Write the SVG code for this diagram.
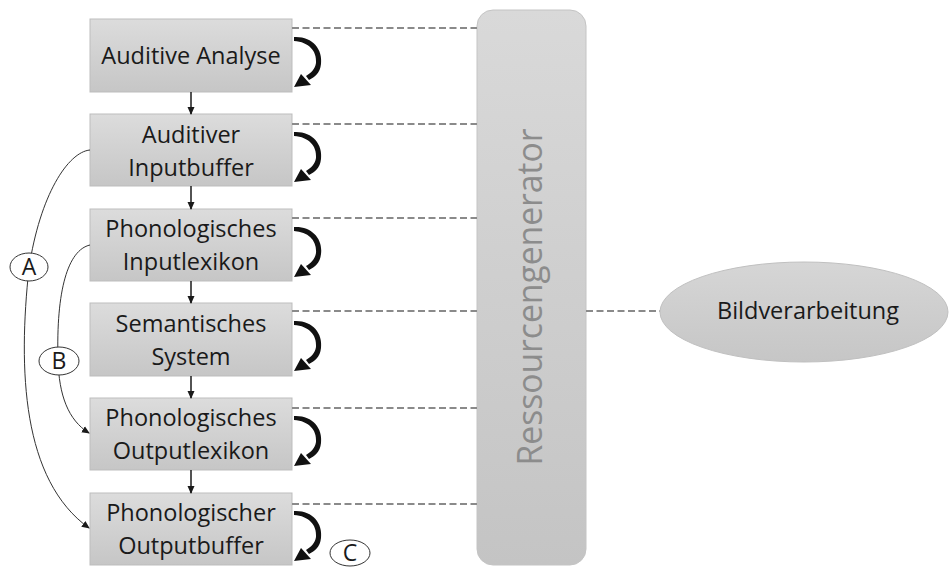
<svg xmlns="http://www.w3.org/2000/svg" width="950" height="569" viewBox="0 0 950 569">
  <style>
    .box { fill: url(#boxFill); stroke: #bdbdbd; stroke-width: 1; }
    .lbl { font-family: "Open Sans", "Liberation Sans", sans-serif; font-size: 23.5px; fill: #1a1a1a; text-anchor: middle; }
    .dash { stroke: #8a8a8a; stroke-width: 2.2; stroke-dasharray: 7 3.5; fill: none; }
    .flow { stroke: #1a1a1a; stroke-width: 1.5; fill: none; }
    .route { stroke: #333; stroke-width: 1; fill: none; }
    .tag { fill: #fff; stroke: #333; stroke-width: 1; }
    .tagtxt { font-family: "Open Sans", "Liberation Sans", sans-serif; font-size: 23px; fill: #1a1a1a; text-anchor: middle; }
  </style>
  <defs>
    <linearGradient id="boxFill" x1="0" y1="0" x2="0" y2="1">
      <stop offset="0" stop-color="#dcdcdc"/>
      <stop offset="1" stop-color="#c6c6c6"/>
    </linearGradient>
    <linearGradient id="resFill" x1="0" y1="0" x2="0" y2="1">
      <stop offset="0" stop-color="#d9d9d9"/>
      <stop offset="1" stop-color="#c4c4c4"/>
    </linearGradient>
    <linearGradient id="ellFill" x1="0" y1="0" x2="0" y2="1">
      <stop offset="0" stop-color="#d6d6d6"/>
      <stop offset="1" stop-color="#c6c6c6"/>
    </linearGradient>
    <marker id="tip" markerWidth="8" markerHeight="8" refX="7" refY="4" orient="auto" markerUnits="userSpaceOnUse">
      <path d="M0,0.5 L8,4 L0,7.5 Z" fill="#1a1a1a"/>
    </marker>
    <!-- self-feedback loop drawn on the right edge of each module -->
    <g id="loop">
      <path d="M2,18 C20,17 31,30 29,45 C28,54 23,58 17,61 L14,57 C19,54 23,50 24,44 C25,32 17,23 2,22 Z" fill="#111"/>
      <polygon points="2,68 9,55 19,66" fill="#111"/>
    </g>
  </defs>

  <!-- resource generator column -->
  <g id="ressourcengenerator">
    <rect x="477" y="10" width="109" height="555" rx="16" ry="16" fill="url(#resFill)" stroke="#c4c4c4" stroke-width="1"/>
    <text transform="translate(542,297) rotate(-90)" font-family="'Open Sans', 'Liberation Sans', sans-serif" font-size="34" fill="#8c8c8c" text-anchor="middle" textLength="337" lengthAdjust="spacingAndGlyphs">Ressourcengenerator</text>
  </g>

  <!-- image processing -->
  <g id="bildverarbeitung">
    <ellipse cx="804" cy="312" rx="144" ry="50" fill="url(#ellFill)" stroke="#c0c0c0" stroke-width="1"/>
    <text x="808" y="319" class="lbl">Bildverarbeitung</text>
  </g>

  <!-- processing modules -->
  <g id="auditive-analyse">
    <rect class="box" x="90" y="19" width="202" height="73"/>
    <text class="lbl" x="191" y="64">Auditive Analyse</text>
  </g>
  <g id="auditiver-inputbuffer">
    <rect class="box" x="90" y="114" width="202" height="72"/>
    <text class="lbl" x="191" y="143">Auditiver</text>
    <text class="lbl" x="191" y="176">Inputbuffer</text>
  </g>
  <g id="phonologisches-inputlexikon">
    <rect class="box" x="90" y="209" width="202" height="72"/>
    <text class="lbl" x="191" y="237">Phonologisches</text>
    <text class="lbl" x="191" y="270">Inputlexikon</text>
  </g>
  <g id="semantisches-system">
    <rect class="box" x="90" y="303" width="202" height="73"/>
    <text class="lbl" x="191" y="332">Semantisches</text>
    <text class="lbl" x="191" y="365">System</text>
  </g>
  <g id="phonologisches-outputlexikon">
    <rect class="box" x="90" y="398" width="202" height="72"/>
    <text class="lbl" x="191" y="426">Phonologisches</text>
    <text class="lbl" x="191" y="459">Outputlexikon</text>
  </g>
  <g id="phonologischer-outputbuffer">
    <rect class="box" x="90" y="493" width="202" height="72"/>
    <text class="lbl" x="191" y="521">Phonologischer</text>
    <text class="lbl" x="191" y="554">Outputbuffer</text>
  </g>

  <!-- connectors -->
  <g id="connectors">
    <!-- links to the resource generator -->
    <line class="dash" x1="292" y1="28" x2="477" y2="28"/>
    <line class="dash" x1="292" y1="124" x2="477" y2="124"/>
    <line class="dash" x1="292" y1="218" x2="477" y2="218"/>
    <line class="dash" x1="292" y1="311" x2="477" y2="311"/>
    <line class="dash" x1="292" y1="408" x2="477" y2="408"/>
    <line class="dash" x1="292" y1="504" x2="477" y2="504"/>
    <line class="dash" x1="586" y1="311" x2="660" y2="311"/>

    <!-- main processing chain -->
    <line class="flow" x1="191" y1="92" x2="191" y2="114" marker-end="url(#tip)"/>
    <line class="flow" x1="191" y1="186" x2="191" y2="209" marker-end="url(#tip)"/>
    <line class="flow" x1="191" y1="281" x2="191" y2="303" marker-end="url(#tip)"/>
    <line class="flow" x1="191" y1="376" x2="191" y2="398" marker-end="url(#tip)"/>
    <line class="flow" x1="191" y1="470" x2="191" y2="493" marker-end="url(#tip)"/>

    <!-- feedback loops -->
    <use href="#loop" x="292" y="19"/>
    <use href="#loop" x="292" y="114"/>
    <use href="#loop" x="292" y="209"/>
    <use href="#loop" x="292" y="303"/>
    <use href="#loop" x="292" y="398"/>
    <use href="#loop" x="292" y="493"/>

    <!-- routes A and B -->
    <path class="route" d="M90,150 C68,152 40,195 29,268 C18,370 22,480 89,528" marker-end="url(#tip)"/>
    <path class="route" d="M90,245 C68,250 56,290 58,360 C59,395 68,420 89,433" marker-end="url(#tip)"/>
  </g>

  <!-- route labels -->
  <g id="label-a">
    <ellipse class="tag" cx="29" cy="267" rx="19" ry="14"/>
    <text class="tagtxt" x="29" y="275">A</text>
  </g>
  <g id="label-b">
    <ellipse class="tag" cx="59" cy="361" rx="20" ry="14"/>
    <text class="tagtxt" x="59" y="369">B</text>
  </g>
  <g id="label-c">
    <ellipse class="tag" cx="350" cy="553" rx="20" ry="13"/>
    <text class="tagtxt" x="350" y="561">C</text>
  </g>
</svg>
